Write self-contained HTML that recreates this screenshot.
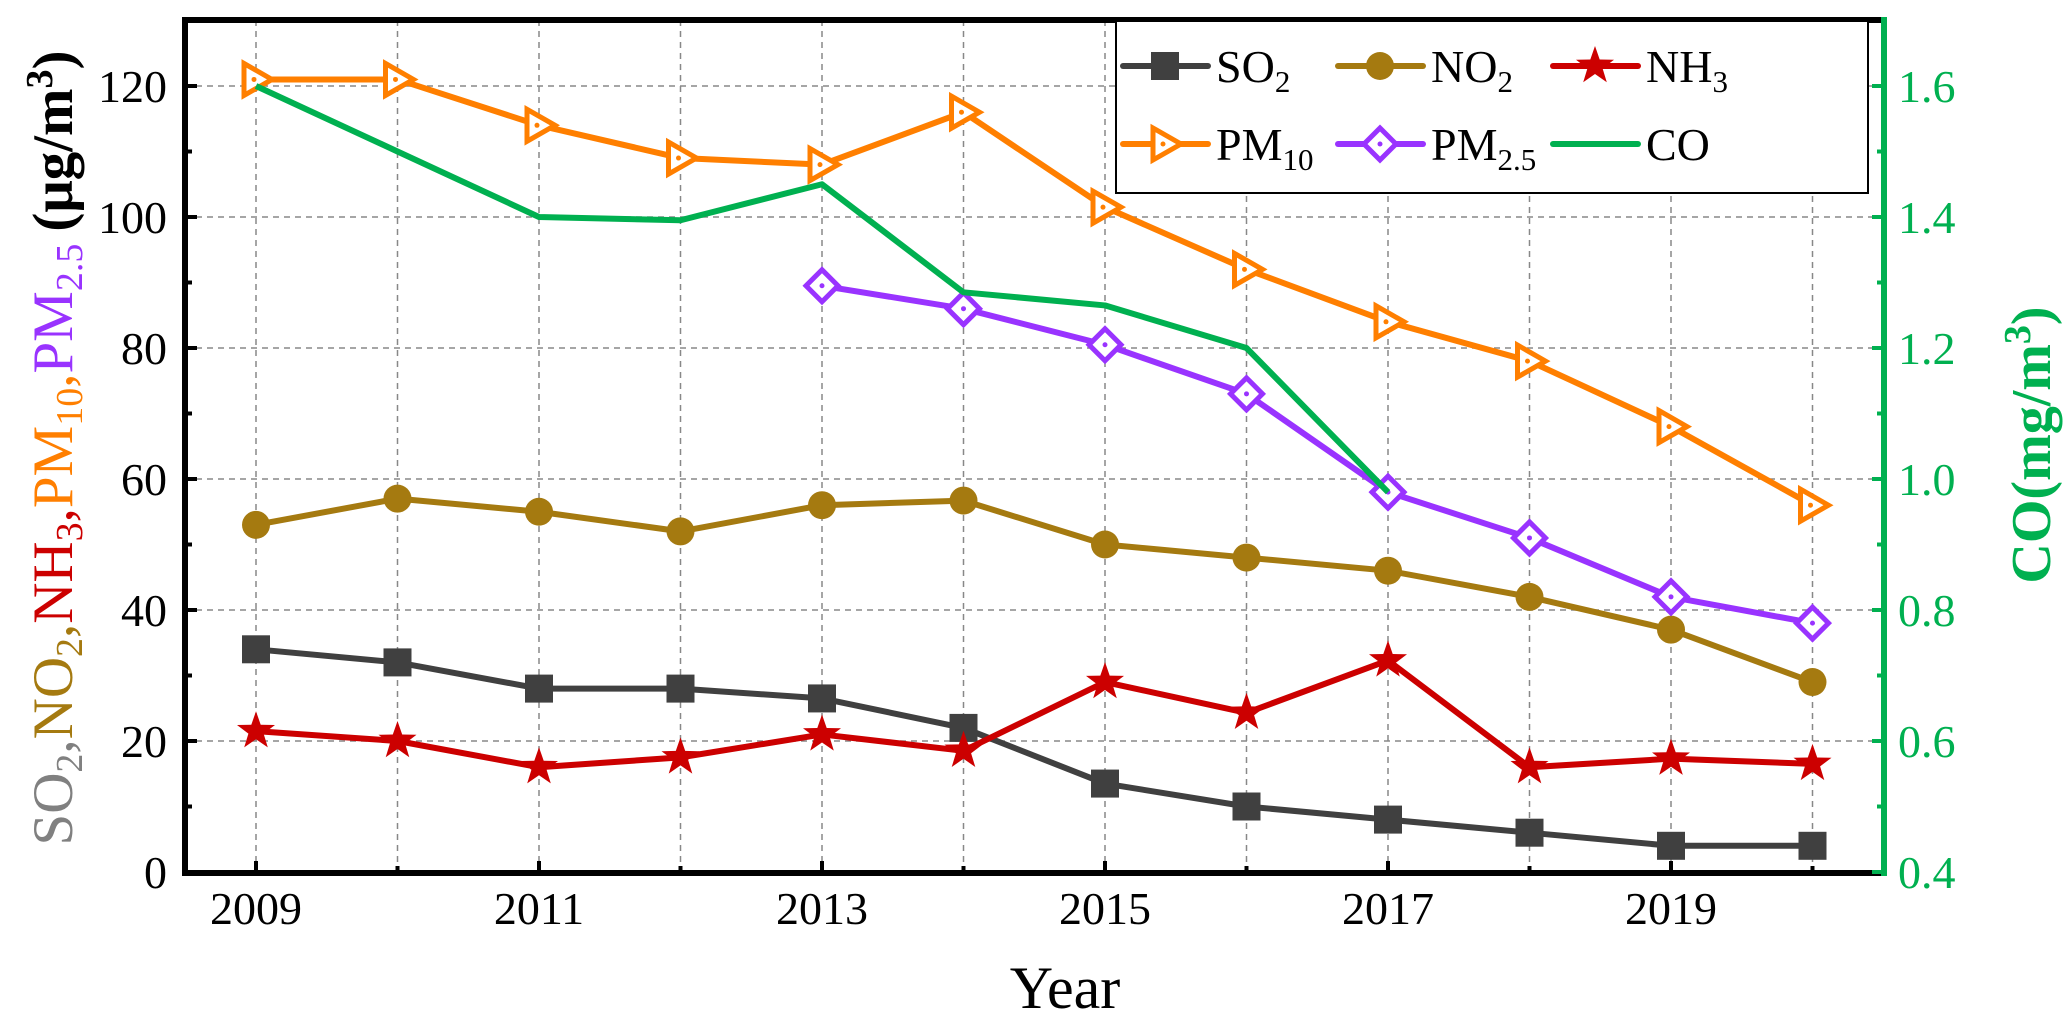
<!DOCTYPE html>
<html><head><meta charset="utf-8">
<style>
html,body{margin:0;padding:0;background:#fff;}
svg{display:block;font-family:"Liberation Serif",serif;}
</style></head>
<body>
<svg id="chart" width="2067" height="1026" viewBox="0 0 2067 1026" xmlns="http://www.w3.org/2000/svg">
<g id="grid"></g>
<g id="series"></g>
<g id="axes"></g>
<text x="1065" y="1008" font-size="60" text-anchor="middle">Year</text>
<text transform="translate(72,448) rotate(-90)" font-size="57" text-anchor="middle"><tspan fill="#808080">SO<tspan font-size="38" dy="10">2</tspan><tspan dy="-10">,</tspan></tspan><tspan fill="#a57a10">NO<tspan font-size="38" dy="10">2</tspan><tspan dy="-10">,</tspan></tspan><tspan fill="#cc0000">NH<tspan font-size="38" dy="10">3</tspan><tspan dy="-10">,</tspan></tspan><tspan fill="#ff7f00">PM<tspan font-size="38" dy="10">10</tspan><tspan dy="-10">,</tspan></tspan><tspan fill="#9933ff">PM<tspan font-size="38" dy="10">2.5</tspan></tspan><tspan fill="#000" font-weight="bold" dy="-10" dx="12">(μg/m<tspan font-size="38" dy="-20">3</tspan><tspan dy="20">)</tspan></tspan></text>
<text transform="translate(2050,445) rotate(-90)" font-size="56" font-weight="bold" text-anchor="middle" fill="#00b050">CO(mg/m<tspan font-size="38" dy="-20">3</tspan><tspan dy="20">)</tspan></text>
<g id="legend"></g>
</svg>
<script>
const years=[2009,2010,2011,2012,2013,2014,2015,2016,2017,2018,2019,2020];
const so2=[34,32,28,28,26.5,22,13.5,10,8,6,4,4];
const no2=[53,57,55,52,56,56.7,50,48,46,42,37,29];
const nh3=[21.5,20,16,17.5,21,18.5,29,24.3,32.3,16,17.3,16.5];
const pm10=[121,121,114,109,108,116,101.5,92,84,78,68,56];
const pm25=[null,null,null,null,89.5,86,80.5,73,58,51,42,38];
const co=[1.6,1.5,1.4,1.395,1.45,1.285,1.265,1.2,0.98,null,null,null];
const leftTicks=[0,20,40,60,80,100,120];
const rightTicks=[0.4,0.6,0.8,1.0,1.2,1.4,1.6];
const xTickLabels=[2009,2011,2013,2015,2017,2019];

const NS="http://www.w3.org/2000/svg";
const L=185,R=1884,T=20,B=873;
const X=y=>256+(y-2009)*141.5;
const Y=v=>872-v*6.55;
const Y2=v=>872-(v-0.4)*655;
function mk(p,tag,at){const e=document.createElementNS(NS,tag);for(const k in at)e.setAttribute(k,at[k]);p.appendChild(e);return e;}
const grid=document.getElementById('grid'),axes=document.getElementById('axes'),ser=document.getElementById('series'),leg=document.getElementById('legend');

years.forEach(y=>{const l=mk(grid,'line',{x1:X(y),x2:X(y),y1:T,y2:B,stroke:'#888','stroke-width':1.5,'stroke-dasharray':'6,5'});

});
leftTicks.forEach(v=>{if(v===0)return;const l=mk(grid,'line',{x1:L,x2:R,y1:Y(v),y2:Y(v),stroke:'#888','stroke-width':1.5,'stroke-dasharray':'6,5'});

});

mk(axes,'line',{x1:L,x2:R,y1:T,y2:T,stroke:'#000','stroke-width':6});
mk(axes,'line',{x1:L,x2:R,y1:B,y2:B,stroke:'#000','stroke-width':6});
mk(axes,'line',{x1:L,x2:L,y1:T-3,y2:B+3,stroke:'#000','stroke-width':6});
mk(axes,'line',{x1:R,x2:R,y1:T-3,y2:B+3,stroke:'#00b050','stroke-width':6});
for(let v=0;v<=130;v+=10){mk(axes,'line',{x1:L,x2:L+(v%20===0?12:7),y1:Y(v),y2:Y(v),stroke:'#000','stroke-width':4});}
leftTicks.forEach(v=>{const t=mk(axes,'text',{x:L-18,y:Y(v)+16,'font-size':46,'text-anchor':'end'});t.textContent=v;

});
for(let v=0.4;v<=1.7;v+=0.1){mk(axes,'line',{x1:R,x2:R-(Math.round(v*10)%2===0?12:7),y1:Y2(v),y2:Y2(v),stroke:'#00b050','stroke-width':4});}
rightTicks.forEach(v=>{const t=mk(axes,'text',{x:R+14,y:Y2(v)+16,'font-size':46,fill:'#00b050'});t.textContent=v.toFixed(1);

});
years.forEach(y=>{mk(axes,'line',{x1:X(y),x2:X(y),y1:B,y2:B-((y-2009)%2===0?12:7),stroke:'#000','stroke-width':4});});
xTickLabels.forEach(y=>{const t=mk(axes,'text',{x:X(y),y:924,'font-size':46,'text-anchor':'middle'});t.textContent=y;

});

function marker(g,type,x,y,c){
 if(type==='square')return mk(g,'rect',{x:x-14,y:y-14,width:28,height:28,fill:'#404040'});
 if(type==='circle')return mk(g,'circle',{cx:x,cy:y,r:14,fill:c});
 if(type==='star'){let p=[];for(let i=0;i<10;i++){const r=i%2?8:20,a=-Math.PI/2+i*Math.PI/5;p.push((x+r*Math.cos(a)).toFixed(1)+','+(y+r*Math.sin(a)).toFixed(1));}return mk(g,'polygon',{points:p.join(' '),fill:c});}
 if(type==='tri'){const gg=mk(g,'g',{});mk(gg,'polygon',{points:`${x-12},${y-16} ${x+16},${y} ${x-12},${y+16}`,fill:'#fff',stroke:c,'stroke-width':5});mk(gg,'circle',{cx:x-2,cy:y,r:2.5,fill:c});return gg;}
 if(type==='diamond'){const gg=mk(g,'g',{});mk(gg,'polygon',{points:`${x},${y-16} ${x+16},${y} ${x},${y+16} ${x-16},${y}`,fill:'#fff',stroke:c,'stroke-width':5});mk(gg,'circle',{cx:x,cy:y,r:2.5,fill:c});return gg;}
}
const S=[
 {name:'so2',data:so2,c:'#404040',m:'square',ax:Y},
 {name:'no2',data:no2,c:'#a57a10',m:'circle',ax:Y},
 {name:'nh3',data:nh3,c:'#cc0000',m:'star',ax:Y},
 {name:'pm10',data:pm10,c:'#ff7f00',m:'tri',ax:Y},
 {name:'pm25',data:pm25,c:'#9933ff',m:'diamond',ax:Y},
 {name:'co',data:co,c:'#00b050',m:null,ax:Y2}];
S.forEach(s=>{
 const g=mk(ser,'g',{});
 
 
 const pts=[];s.data.forEach((v,i)=>{if(v!==null)pts.push([X(years[i]),s.ax(v)]);});
 const pl=mk(g,'polyline',{points:pts.map(p=>p.join(',')).join(' '),fill:'none',stroke:s.c,'stroke-width':6,'stroke-linejoin':'round'});
 
 
 if(s.m)pts.forEach(p=>{const m=marker(g,s.m,p[0],p[1],s.c);
  
  });
});
mk(leg,'rect',{x:1116,y:21,width:752,height:172,fill:'#fff',stroke:'#000','stroke-width':2});
const legItems=[['SO','2',0,0],['NO','2',1,0],['NH','3',2,0],['PM','10',0,1],['PM','2.5',1,1],['CO','',2,1]];
legItems.forEach((it,i)=>{
 const s=S[i];const x0=1123+it[2]*215,y0=66+it[3]*78;
 const g=mk(leg,'g',{});
 
 
 mk(g,'line',{x1:x0,x2:x0+85,y1:y0,y2:y0,stroke:s.c,'stroke-width':6,'stroke-linecap':'round'});
 if(s.m)marker(g,s.m,x0+42,y0,s.c);
 const t=mk(g,'text',{x:x0+93,y:y0+16,'font-size':46});
 t.textContent=it[0];
 if(it[1]){const ts=mk(t,'tspan',{'font-size':31,dy:10});ts.textContent=it[1];}
});
</script>
</body></html>
